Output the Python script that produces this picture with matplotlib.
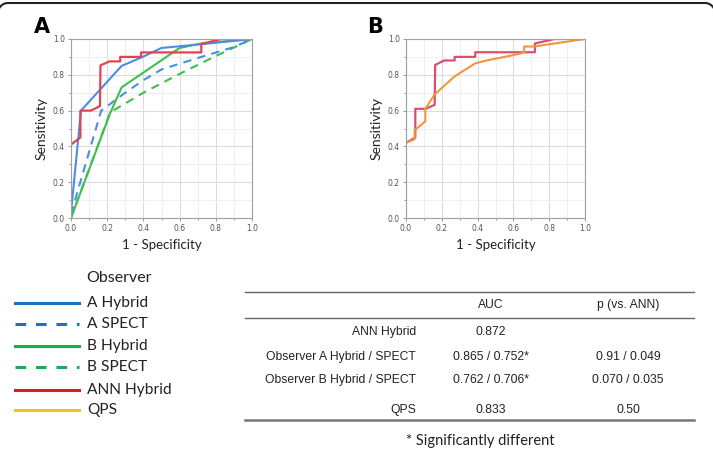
import matplotlib
matplotlib.use("Agg")
import numpy as np
import matplotlib.pyplot as plt
from matplotlib.lines import Line2D
from matplotlib.ticker import MultipleLocator

# ---- data ----
ann_x = [0.0, 0.052, 0.052, 0.11, 0.160, 0.163, 0.213, 0.272, 0.272, 0.387, 0.387, 0.72, 0.72, 0.83, 1.0]
ann_y = [0.41, 0.45, 0.60, 0.60, 0.625, 0.853, 0.875, 0.875, 0.90, 0.90, 0.925, 0.925, 0.972, 1.0, 1.0]
annB_y = [0.42, 0.45, 0.61, 0.61, 0.632, 0.855, 0.88, 0.88, 0.90, 0.90, 0.926, 0.926, 0.975, 1.0, 1.0]

a_hyb_x = [0.0, 0.055, 0.28, 0.385, 0.50, 0.71, 1.0]
a_hyb_y = [0.03, 0.60, 0.85, 0.895, 0.95, 0.97, 1.0]

a_spect_x = [0.0, 0.08, 0.167, 0.30, 0.40, 0.50, 0.72, 0.90, 1.0]
a_spect_y = [0.02, 0.30, 0.60, 0.70, 0.77, 0.83, 0.90, 0.955, 1.0]

b_hyb_x = [0.0, 0.216, 0.28, 0.60, 0.72, 1.0]
b_hyb_y = [0.0, 0.585, 0.73, 0.95, 0.975, 1.0]

b_spect_x = [0.0, 0.216, 0.30, 0.40, 0.60, 0.80, 1.0]
b_spect_y = [0.0, 0.59, 0.64, 0.70, 0.805, 0.905, 1.0]

qps_x = [0.0, 0.048, 0.048, 0.108, 0.108, 0.16, 0.27, 0.387, 0.45, 0.60, 0.66, 0.66, 0.715, 1.0]
qps_y = [0.42, 0.44, 0.49, 0.54, 0.61, 0.69, 0.79, 0.864, 0.88, 0.91, 0.925, 0.958, 0.958, 1.0]

legend_labels = ["A Hybrid", "A SPECT", "B Hybrid", "B SPECT", "ANN Hybrid", "QPS"]
row_labels = ["ANN Hybrid", "Observer A Hybrid / SPECT", "Observer B Hybrid / SPECT", "QPS"]
auc_vals = ["0.872", "0.865 / 0.752*", "0.762 / 0.706*", "0.833"]
p_vals = ["", "0.91 / 0.049", "0.070 / 0.035", "0.50"]

W, H = 713, 450
fig = plt.figure(figsize=(W / 100, H / 100), dpi=100)
fig.patch.set_facecolor("white")

def fx(px):
    return px / W

def fy(py):
    return 1 - py / H

# border: top edge with rounded corners at the image edges
r = 10
t = np.linspace(0, np.pi / 2, 15)
left_x = list(-2 + r - r * np.cos(t))
left_y = list(3 + r - r * np.sin(t))
right_x = list(715 - r + r * np.sin(t))
right_y = list(3 + r - r * np.cos(t))
bx = left_x + right_x
by = left_y + right_y
fig.add_artist(Line2D([fx(v) for v in bx], [fy(v) for v in by], color="#222222", lw=1.5,
                      transform=fig.transFigure))

lab_font = ["Lato", "DejaVu Sans"]

def style_ax(ax):
    ax.set_xlim(0, 1)
    ax.set_ylim(0, 1)
    ax.xaxis.set_major_locator(MultipleLocator(0.2))
    ax.yaxis.set_major_locator(MultipleLocator(0.2))
    ax.xaxis.set_minor_locator(MultipleLocator(0.1))
    ax.yaxis.set_minor_locator(MultipleLocator(0.1))
    ax.grid(which="major", color="#dcdcdc", linewidth=0.8)
    ax.grid(which="minor", color="#ededed", linewidth=0.6)
    ax.set_axisbelow(True)
    for s in ax.spines.values():
        s.set_color("#a0a0a0")
        s.set_linewidth(0.8)
    ax.tick_params(which="both", colors="#888888", labelcolor="#555555",
                   labelsize=5.5, length=2.5, width=0.6, pad=2)
    ax.tick_params(which="minor", length=1.5)
    ax.set_xticklabels([f"{v:.1f}" for v in ax.get_xticks()])
    ax.set_yticklabels([f"{v:.1f}" for v in ax.get_yticks()])
    ax.set_xlabel("1 - Specificity", fontsize=9.5, family=lab_font, color="#222222", labelpad=4)
    ax.set_ylabel("Sensitivity", fontsize=10, family=lab_font, color="#222222", labelpad=4)

axA = fig.add_axes([fx(71), fy(218), fx(252 - 71), (218 - 39) / H])
style_ax(axA)
axA.plot(b_spect_x, b_spect_y, color="#3fbf4f", lw=1.5, ls=(0, (4, 3)))
axA.plot(a_spect_x, a_spect_y, color="#4a8de6", lw=1.5, ls=(0, (4, 3)))
axA.plot(b_hyb_x, b_hyb_y, color="#3fbf4f", lw=1.5)
axA.plot(a_hyb_x, a_hyb_y, color="#4a8de6", lw=1.5)
axA.plot(ann_x, ann_y, color="#e2434f", lw=1.6)

axB = fig.add_axes([fx(406), fy(218), fx(585 - 406), (218 - 39) / H])
style_ax(axB)
axB.plot(ann_x, annB_y, color="#d9506e", lw=1.6)
axB.plot(qps_x, qps_y, color="#f0963c", lw=1.5)

fig.text(fx(34), fy(27), "A", fontsize=15, fontweight="bold", va="center", ha="left")
fig.text(fx(367), fy(27), "B", fontsize=15, fontweight="bold", va="center", ha="left")

# legend
fig.text(fx(86), fy(278), "Observer", fontsize=11.5, family=lab_font, va="center", ha="left", color="#222222")
leg_colors = ["#1f70c1", "#1f70c1", "#1faa55", "#1faa55", "#e31a1c", "#f8c21d"]
leg_styles = ["-", (0, (3.5, 3.2)), "-", (0, (3.5, 3.2)), "-", "-"]
leg_y = [303, 324, 346, 367, 390, 410]
for lbl, c, ls, yy in zip(legend_labels, leg_colors, leg_styles, leg_y):
    fig.add_artist(Line2D([fx(15), fx(79)], [fy(yy), fy(yy)], color=c, lw=2.2, ls=ls,
                          transform=fig.transFigure))
    fig.text(fx(87), fy(yy), lbl, fontsize=11.2, family=lab_font, va="center", ha="left", color="#222222")

# table
tab_font = ["Liberation Sans", "DejaVu Sans"]
fig.add_artist(Line2D([fx(245), fx(694)], [fy(292), fy(292)], color="#666666", lw=1.0, transform=fig.transFigure))
fig.add_artist(Line2D([fx(245), fx(694)], [fy(318), fy(318)], color="#666666", lw=1.0, transform=fig.transFigure))
fig.add_artist(Line2D([fx(245), fx(694)], [fy(420), fy(420)], color="#777777", lw=1.8, transform=fig.transFigure))
fs = 8.7
fig.text(fx(491), fy(305), "AUC", fontsize=fs, family=tab_font, ha="center", va="center", color="#222222")
fig.text(fx(628), fy(305), "p (vs. ANN)", fontsize=fs, family=tab_font, ha="center", va="center", color="#222222")
row_y = [332, 357, 380, 410]
for lbl, a, p, yy in zip(row_labels, auc_vals, p_vals, row_y):
    fig.text(fx(416), fy(yy), lbl, fontsize=fs, family=tab_font, ha="right", va="center", color="#222222")
    fig.text(fx(491), fy(yy), a, fontsize=fs, family=tab_font, ha="center", va="center", color="#222222")
    if p:
        fig.text(fx(628), fy(yy), p, fontsize=fs, family=tab_font, ha="center", va="center", color="#222222")
fig.text(fx(480), fy(441), "* Significantly different", fontsize=10.5, family=lab_font,
         ha="center", va="center", color="#222222")

fig.savefig("out.png", dpi=100)
